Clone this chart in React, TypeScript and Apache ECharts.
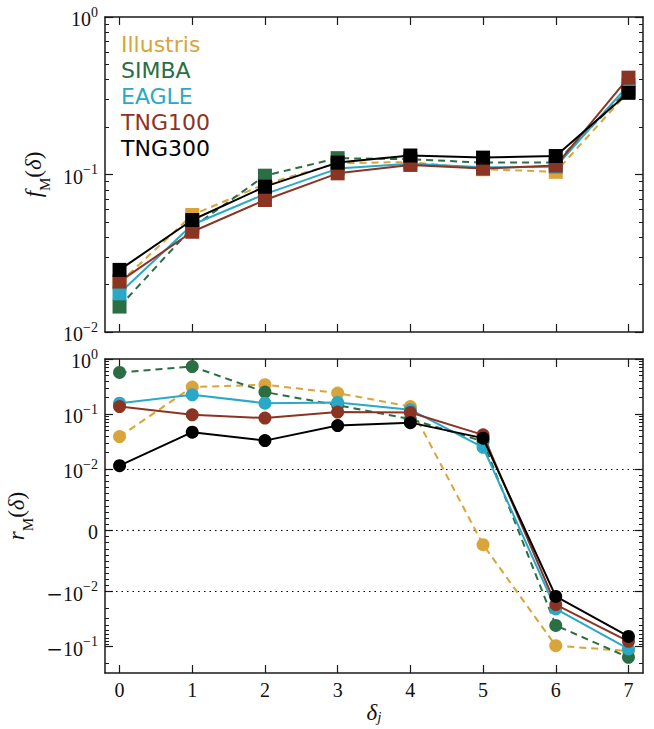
import React, { useEffect, useRef } from 'react';
import * as echarts from 'echarts';

const X = [0, 1, 2, 3, 4, 5, 6, 7];
const NAMES = ['Illustris', 'SIMBA', 'EAGLE', 'TNG100', 'TNG300'];
const COLORS = ['#d9a43a', '#2b6e44', '#2aa8c8', '#8c3424', '#000000'];
const DASHED = [true, true, false, false, false];

// top panel: f_M(delta)
const F_ILLUSTRIS = [0.0205, 0.0553, 0.087, 0.118, 0.12, 0.108, 0.104, 0.335];
const F_SIMBA = [0.0145, 0.046, 0.0983, 0.127, 0.125, 0.119, 0.119, 0.345];
const F_EAGLE = [0.0176, 0.048, 0.075, 0.109, 0.117, 0.111, 0.112, 0.37];
const F_TNG100 = [0.0209, 0.0433, 0.0689, 0.1017, 0.115, 0.109, 0.114, 0.412];
const F_TNG300 = [0.0248, 0.0514, 0.0837, 0.119, 0.132, 0.128, 0.131, 0.33];

// bottom panel: r_M(delta)
const R_ILLUSTRIS = [0.039, 0.31, 0.341, 0.241, 0.137, -0.00233, -0.096, -0.12];
const R_SIMBA = [0.57, 0.73, 0.251, 0.145, 0.081, 0.032, -0.041, -0.156];
const R_EAGLE = [0.158, 0.224, 0.158, 0.163, 0.12, 0.025, -0.0206, -0.11];
const R_TNG100 = [0.137, 0.097, 0.0846, 0.109, 0.107, 0.042, -0.0172, -0.08];
const R_TNG300 = [0.0116, 0.047, 0.033, 0.062, 0.07, 0.0366, -0.0122, -0.065];

const F_DATA = [F_ILLUSTRIS, F_SIMBA, F_EAGLE, F_TNG100, F_TNG300];
const R_DATA = [R_ILLUSTRIS, R_SIMBA, R_EAGLE, R_TNG100, R_TNG300];

const TOP_MIN = 0.01;
const TOP_MAX = 1;
const BOT_MIN = -0.3;
const BOT_MAX = 1;
const BOT_MAJOR = [-0.1, -0.01, 0, 0.01, 0.1, 1];
const DOTTED_LEVELS = [0.01, 0, -0.01];

// symlog transform (linthresh 0.01, linscale 1, base 10)
const LIN = 0.01;
const LSCALE = 1 / (1 - 1 / 10);
function symlog(v: number): number {
  const a = Math.abs(v);
  if (a <= LIN) return (v / LIN) * LSCALE;
  return Math.sign(v) * (LSCALE + Math.log10(a / LIN));
}

const MULT = [2, 3, 4, 5, 6, 7, 8, 9];
const TOP_MINOR = [0.01, 0.1].flatMap((d) => MULT.map((m) => Math.log10(m * d)));
const BOT_MINOR_RAW: number[] = [];
[0.01, 0.1].forEach((d) => MULT.forEach((m) => { BOT_MINOR_RAW.push(m * d); BOT_MINOR_RAW.push(-m * d); }));
[1, 2, 3, 4, 5, 6, 7, 8, 9].forEach((m) => { BOT_MINOR_RAW.push(m * 0.001); BOT_MINOR_RAW.push(-m * 0.001); });
const BOT_MINOR = BOT_MINOR_RAW.filter((v) => v >= BOT_MIN && v <= BOT_MAX).map(symlog);

const AXIS_COLOR = '#1a1a1a';
const SERIF = '"Liberation Serif", "DejaVu Serif", serif';

const tickRich = {
  b: { fontSize: 20, fontFamily: SERIF, color: '#111', lineHeight: 24, verticalAlign: 'bottom' },
  m: { fontSize: 20, fontFamily: '"DejaVu Serif", serif', color: '#111', lineHeight: 24, verticalAlign: 'bottom' },
  s: { fontSize: 14, fontFamily: SERIF, color: '#111', lineHeight: 14, verticalAlign: 'top' },
};

function powLabel(e: number, neg: boolean) {
  return `${neg ? '{m|\u2212}' : ''}{b|10}{s|${e < 0 ? '\u2212' : ''}${Math.abs(e)}}`;
}

const nameRich = {
  i: { fontSize: 23, fontFamily: SERIF, fontStyle: 'italic', color: '#111', lineHeight: 30, verticalAlign: 'top' },
  n: { fontSize: 23, fontFamily: SERIF, color: '#111', lineHeight: 30, verticalAlign: 'top' },
  sub: { fontSize: 15, fontFamily: SERIF, color: '#111', lineHeight: 15, verticalAlign: 'bottom' },
};

const xNameRich = {
  i: { fontSize: 23, fontFamily: SERIF, fontStyle: 'italic', color: '#111', lineHeight: 24, verticalAlign: 'top' },
  subi: { fontSize: 15, fontFamily: SERIF, fontStyle: 'italic', color: '#111', lineHeight: 14, verticalAlign: 'bottom' },
};

function xAxisDef(gridIndex: number, position: 'top' | 'bottom', showLabels: boolean, name?: string) {
  return {
    type: 'value',
    gridIndex,
    position,
    min: -0.2,
    max: 7.2,
    name: name || '',
    nameLocation: 'middle',
    nameGap: 24,
    nameTextStyle: { rich: xNameRich },
    splitLine: { show: false },
    axisLine: { show: true, onZero: false, lineStyle: { color: AXIS_COLOR, width: 1.5 } },
    axisTick: { show: true, inside: true, length: 8, customValues: X, lineStyle: { color: AXIS_COLOR, width: 1.2 } },
    axisLabel: {
      show: showLabels,
      customValues: X,
      margin: 7,
      fontSize: 20,
      fontFamily: SERIF,
      color: '#111',
    },
  };
}

function minorY(gridIndex: number, position: 'left' | 'right', min: number, max: number, vals: number[]) {
  return {
    type: 'value',
    gridIndex,
    position,
    min,
    max,
    splitLine: { show: false },
    axisLine: { show: false, onZero: false },
    axisTick: { show: true, inside: true, length: 4, customValues: vals, lineStyle: { color: AXIS_COLOR, width: 1 } },
    axisLabel: { show: false },
  };
}

function topMajorY(position: 'left' | 'right', showLabels: boolean) {
  return {
    type: 'log',
    logBase: 10,
    gridIndex: 0,
    position,
    min: TOP_MIN,
    max: TOP_MAX,
    name: showLabels ? '{i|f}{sub|M}{n|(}{i|\u03b4}{n|)}' : '',
    nameLocation: 'middle',
    nameRotate: 90,
    nameGap: 44,
    nameTextStyle: { rich: nameRich },
    splitLine: { show: false },
    minorTick: { show: false },
    axisLine: { show: true, onZero: false, lineStyle: { color: AXIS_COLOR, width: 1.5 } },
    axisTick: { show: true, inside: true, length: 8, lineStyle: { color: AXIS_COLOR, width: 1.2 } },
    axisLabel: {
      show: showLabels,
      margin: 7,
      rich: tickRich,
      formatter: (v: number) => powLabel(Math.round(Math.log10(v)), false),
    },
  };
}

const BOT_MAJOR_T = BOT_MAJOR.map(symlog);

function botLabel(v: number) {
  let best = 0;
  BOT_MAJOR_T.forEach((t, i) => { if (Math.abs(t - v) < Math.abs(BOT_MAJOR_T[best] - v)) best = i; });
  const raw = BOT_MAJOR[best];
  if (raw === 0) return '{b|0}';
  return powLabel(Math.round(Math.log10(Math.abs(raw))), raw < 0);
}

function botMajorY(position: 'left' | 'right', showLabels: boolean) {
  return {
    type: 'value',
    gridIndex: 1,
    position,
    min: symlog(BOT_MIN),
    max: symlog(BOT_MAX),
    name: showLabels ? '{i|r}{sub|M}{n|(}{i|\u03b4}{n|)}' : '',
    nameLocation: 'middle',
    nameRotate: 90,
    nameGap: 54,
    nameTextStyle: { rich: nameRich },
    splitLine: { show: false },
    axisLine: { show: true, onZero: false, lineStyle: { color: AXIS_COLOR, width: 1.5 } },
    axisTick: { show: true, inside: true, length: 8, customValues: BOT_MAJOR_T, lineStyle: { color: AXIS_COLOR, width: 1.2 } },
    axisLabel: {
      show: showLabels,
      customValues: BOT_MAJOR_T,
      margin: 7,
      rich: tickRich,
      formatter: (v: number) => botLabel(v),
    },
  };
}

export default function App() {
  const ref = useRef<HTMLDivElement>(null);
  useEffect(() => {
    if (!ref.current) return;
    const chart = echarts.init(ref.current, null, { renderer: 'svg' });
    const series: any[] = [];
    NAMES.forEach((name, i) => {
      series.push({
        name,
        type: 'line',
        xAxisIndex: 0,
        yAxisIndex: 0,
        data: X.map((x, j) => [x, F_DATA[i][j]]),
        symbol: 'rect',
        symbolSize: 14,
        z: 2 + i,
        lineStyle: { color: COLORS[i], width: 2, type: DASHED[i] ? [7, 5] : 'solid' },
        itemStyle: { color: COLORS[i] },
      });
    });
    NAMES.forEach((name, i) => {
      const s: any = {
        name,
        type: 'line',
        xAxisIndex: 2,
        yAxisIndex: 4,
        data: X.map((x, j) => [x, symlog(R_DATA[i][j])]),
        symbol: 'circle',
        symbolSize: 13,
        z: 2 + i,
        lineStyle: { color: COLORS[i], width: 2, type: DASHED[i] ? [7, 5] : 'solid' },
        itemStyle: { color: COLORS[i] },
      };
      if (i === 0) {
        s.markLine = {
          silent: true,
          symbol: ['none', 'none'],
          label: { show: false },
          lineStyle: { color: '#000', width: 1, type: [1.5, 4] },
          data: DOTTED_LEVELS.map((v) => ({ yAxis: symlog(v) })),
          z: 1,
        };
      }
      series.push(s);
    });

    chart.setOption({
      animation: false,
      backgroundColor: '#ffffff',
      grid: [
        { left: 105, right: 11, top: 17, height: 315, containLabel: false, outerBoundsMode: 'none' },
        { left: 105, right: 11, top: 359, height: 314, containLabel: false, outerBoundsMode: 'none' },
      ],
      legend: {
        orient: 'vertical',
        left: 111,
        top: 26,
        itemWidth: 0,
        itemHeight: 0,
        itemGap: 0,
        icon: 'rect',
        itemStyle: { opacity: 0 },
        lineStyle: { opacity: 0 },
        selectedMode: false,
        textStyle: { fontSize: 22, fontFamily: '"DejaVu Sans", sans-serif', lineHeight: 26 },
        data: NAMES.map((n, i) => ({ name: n, textStyle: { color: COLORS[i] } })),
      },
      xAxis: [
        xAxisDef(0, 'bottom', false),
        xAxisDef(0, 'top', false),
        xAxisDef(1, 'bottom', true, '{i|\u03b4}{subi|j}'),
        xAxisDef(1, 'top', false),
      ],
      yAxis: [
        topMajorY('left', true),
        topMajorY('right', false),
        minorY(0, 'left', -2, 0, TOP_MINOR),
        minorY(0, 'right', -2, 0, TOP_MINOR),
        botMajorY('left', true),
        botMajorY('right', false),
        minorY(1, 'left', symlog(BOT_MIN), symlog(BOT_MAX), BOT_MINOR),
        minorY(1, 'right', symlog(BOT_MIN), symlog(BOT_MAX), BOT_MINOR),
      ],
      series,
    });
    return () => chart.dispose();
  }, []);
  return (
    <div
      ref={ref}
      style={{ position: 'absolute', left: 0, top: 0, width: 654, height: 729, background: '#fff' }}
    />
  );
}
